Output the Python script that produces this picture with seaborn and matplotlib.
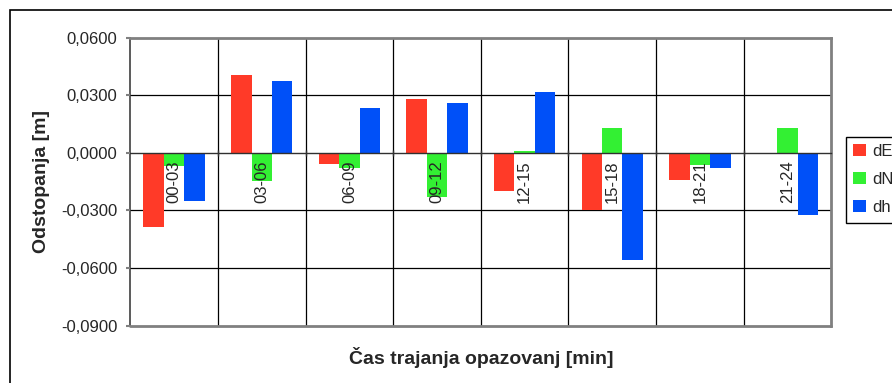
import matplotlib
matplotlib.use("Agg")
import matplotlib.pyplot as plt
from matplotlib.patches import Patch, Rectangle
import seaborn as sns
import pandas as pd

# Observation windows and coordinate deviations [m]
categories = ['00-03', '03-06', '06-09', '09-12', '12-15', '15-18', '18-21', '21-24']
dE = [-0.0384, 0.0406, -0.0057, 0.0282, -0.0198, -0.0300, -0.0141, 0.0]
dN = [-0.0070, -0.0148, -0.0078, -0.0229, 0.0012, 0.0130, -0.0063, 0.0130]
dh = [-0.0251, 0.0375, 0.0235, 0.0261, 0.0318, -0.0557, -0.0078, -0.0321]
series_names = ['dE', 'dN', 'dh']
series_colors = ['#FF3A28', '#33F033', '#0050F8']
y_ticks = [-0.09, -0.06, -0.03, 0.0, 0.03, 0.06]
y_tick_labels = ['-0,0900', '-0,0600', '-0,0300', '0,0000', '0,0300', '0,0600']

df = pd.DataFrame({
    'cas': categories * 3,
    'serija': [s for s in series_names for _ in categories],
    'vrednost': dE + dN + dh,
})

sns.set_theme(style='white')
plt.rcParams['font.family'] = ['Liberation Sans', 'DejaVu Sans']

fig = plt.figure(figsize=(8.92, 3.83), dpi=100)
ax = fig.add_axes([0.1461, 0.1496, 0.7859, 0.752])

sns.barplot(data=df, x='cas', y='vrednost', hue='serija', order=categories,
            hue_order=series_names, palette=dict(zip(series_names, series_colors)),
            width=0.70, linewidth=0, saturation=1, legend=False, ax=ax, zorder=2)

ax.set_xlim(-0.5, len(categories) - 0.5)
ax.set_ylim(-0.09, 0.06)

# grid behind the bars
for y in [-0.06, -0.03, 0.03]:
    ax.axhline(y, color='black', lw=0.9, zorder=0)
for i in range(1, len(categories)):
    ax.axvline(i - 0.5, color='black', lw=0.9, zorder=0)

# category axis sits on the zero line
ax.spines['bottom'].set_position(('data', 0))
ax.spines['bottom'].set_color('#303030')
ax.spines['bottom'].set_linewidth(1.0)
ax.axhline(-0.09, color='#808080', lw=2.0, zorder=3, clip_on=False)
for side in ['top', 'right']:
    ax.spines[side].set_color('#808080')
    ax.spines[side].set_linewidth(2.0)
    ax.spines[side].set_visible(True)
ax.spines['left'].set_color('#404040')
ax.spines['left'].set_linewidth(1.2)
ax.set_axisbelow(False)

ax.set_xticks(range(len(categories)))
ax.set_xticklabels(categories, rotation=90, fontsize=12)
ax.set_xticks([i - 0.5 for i in range(1, len(categories))], minor=True)
ax.tick_params(axis='x', which='major', length=0, pad=5.3)
ax.tick_params(axis='x', which='minor', direction='inout', length=5, width=1, color='#303030', bottom=True)

ax.set_yticks(y_ticks)
ax.set_yticklabels(y_tick_labels, fontsize=12)
ax.tick_params(axis='y', which='major', direction='out', length=3, width=1.5,
               color='#808080', pad=6.5, left=True)

ax.set_ylabel('Odstopanja [m]', fontsize=14, fontweight='bold')
ax.yaxis.label.set_va('center')
ax.yaxis.set_label_coords(-0.126, 0.5)
ax.set_xlabel('Čas trajanja opazovanj [min]', fontsize=14, fontweight='bold')
ax.xaxis.label.set_va('center')
ax.xaxis.set_label_coords(0.501, -0.112)

# legend
handles = [Patch(facecolor=c, edgecolor='none') for c in series_colors]
leg = fig.legend(handles, series_names, loc='upper left',
                 bbox_to_anchor=(845.7 / 892, 1 - 136.7 / 383),
                 bbox_transform=fig.transFigure, fontsize=12, frameon=True,
                 fancybox=False, edgecolor='black', framealpha=1,
                 handlelength=0.75, handleheight=0.75, handletextpad=0.4,
                 labelspacing=0.78, borderpad=0.45, borderaxespad=0)
leg.get_frame().set_linewidth(1.0)

# chart area frame
fig.patches.append(Rectangle((10 / 892, -0.2), 1.5, 1.2 - 10 / 383,
                             transform=fig.transFigure, fill=False,
                             edgecolor='black', lw=1.2, zorder=0))

fig.savefig('out.png', dpi=100)
